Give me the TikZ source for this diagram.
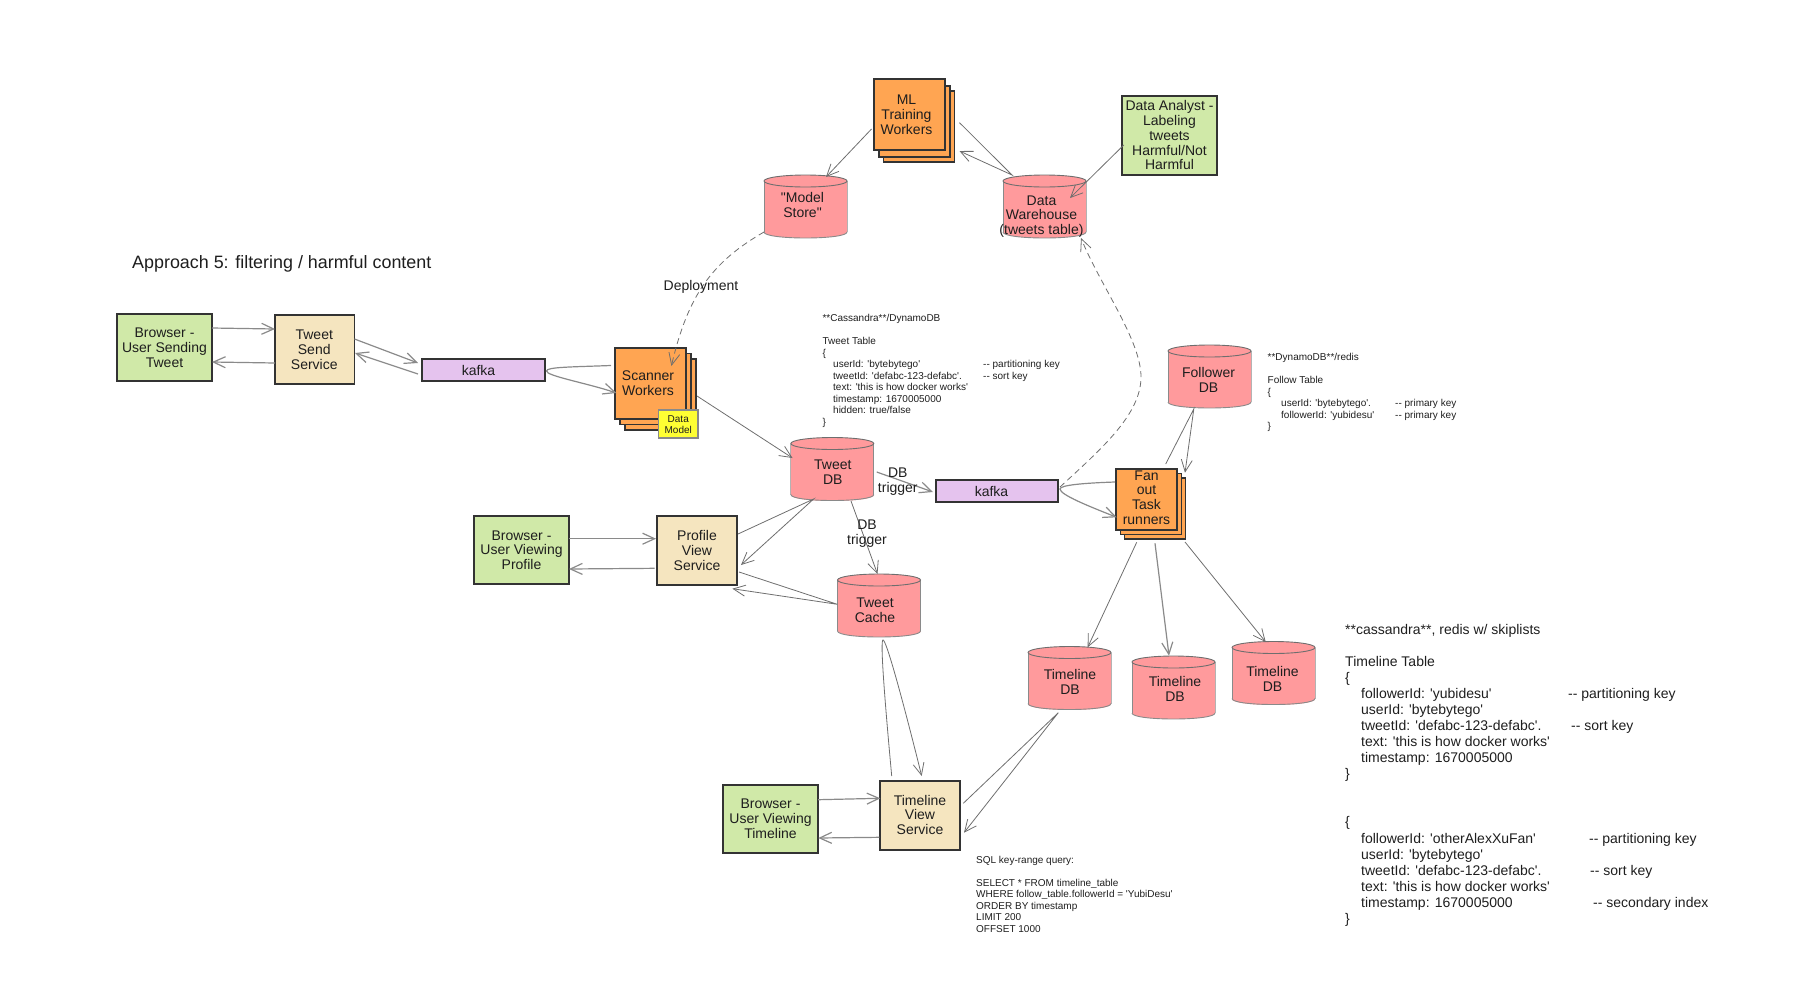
\documentclass[tikz,border=0pt]{standalone}
\usepackage{fontspec}
\setmainfont{Liberation Sans}[Ligatures=TeXOff]
\usetikzlibrary{arrows.meta}
\definecolor{cgreen}{HTML}{D0E9A8}
\definecolor{ccream}{HTML}{F5E5BF}
\definecolor{corange}{HTML}{FFA552}
\definecolor{cpurple}{HTML}{E5C3EE}
\definecolor{cred}{HTML}{FF9A9C}
\definecolor{cyell}{HTML}{FFFF33}
\definecolor{cline}{HTML}{6E6E6E}
\definecolor{cthick}{HTML}{8A8A8A}
\definecolor{cborder}{HTML}{333333}
\definecolor{ctext}{HTML}{1E1E1E}
\newcommand\nt[3]{\raisebox{\dimexpr -#2pt - 5.5pt\relax}[0pt][0pt]{\makebox[0pt][c]{\hspace{#1pt}\hspace{#1pt}\begin{tabular}[c]{@{}c@{}}#3\end{tabular}}}}
\newcommand\kc[3]{\makebox[#1pt][l]{#2}#3}
\newcommand\dd{-{}-}
\tikzset{
  boxbase/.style={rectangle,draw=cborder,line width=1.3pt,inner sep=0pt,text=ctext,font=\fontsize{14}{14.8}\selectfont},
  greenbox/.style={boxbase,fill=cgreen},
  creambox/.style={boxbase,fill=ccream},
  orangebox/.style={boxbase,fill=corange},
  purplebox/.style={boxbase,fill=cpurple},
  notebox/.style={boxbase,fill=cyell,draw=cthick,font=\fontsize{10}{11}\selectfont},
  dbcyl/.style={rectangle,inner sep=0pt,text=ctext,font=\fontsize{14}{14.8}\selectfont,minimum width=84pt,minimum height=64pt,
    path picture={
      \fill[cred] ([shift={(0.5,6.5)}]path picture bounding box.north west) rectangle ([shift={(-0.5,-6.5)}]path picture bounding box.south east);
      \fill[cred] ([shift={(0.5,-6.5)}]path picture bounding box.south west) .. controls +(0,8) and +(0,8) .. ([shift={(-0.5,-6.5)}]path picture bounding box.south east);
      \draw[cthick,line width=0.9pt] ([shift={(0.5,-6.5)}]path picture bounding box.south west) .. controls +(0,8) and +(0,8) .. ([shift={(-0.5,-6.5)}]path picture bounding box.south east);
      \draw[cthick,line width=0.9pt] ([shift={(0.5,6.5)}]path picture bounding box.north west) -- ([shift={(0.5,-6.5)}]path picture bounding box.south west);
      \draw[cthick,line width=0.9pt] ([shift={(-0.5,6.5)}]path picture bounding box.north east) -- ([shift={(-0.5,-6.5)}]path picture bounding box.south east);
      \draw[cline,line width=0.9pt,fill=cred] ([shift={(0,6.5)}]path picture bounding box.north) ellipse [x radius=41.5pt,y radius=6pt];
    }},
  conn/.style={draw=cline,line width=0.8pt,-{Straight Barb[length=12pt,width=11pt]}},
  connthick/.style={draw=cthick,line width=1.2pt,-{Straight Barb[length=12pt,width=11pt]}},
  dashconn/.style={conn,dashed,dash pattern=on 6pt off 4pt},
  lbl/.style={inner sep=0pt,text=ctext,font=\fontsize{14}{14.8}\selectfont,align=center},
  smallblock/.style={inner sep=0pt,anchor=north west,align=left,text=ctext,font=\fontsize{10}{11.5}\selectfont},
  bigblock/.style={inner sep=0pt,anchor=north west,align=left,text=ctext,font=\fontsize{14}{16.05}\selectfont},
}
\begin{document}
\begin{tikzpicture}[x=1pt,y=-1pt]
\useasboundingbox (0,0) rectangle (1797,1002);
\node[lbl,anchor=west,font=\fontsize{17.9}{20}\selectfont] (title) at (132,263.5) {Approach 5: filtering / harmful content};

\node[greenbox,minimum width=95pt,minimum height=67pt] (brs) at (164.5,347.5) {\nt{0}{0}{Browser -\\User Sending\\Tweet}};
\node[creambox,minimum width=79.5pt,minimum height=69pt] (tss) at (314.75,349.5) {\nt{-0.5}{0}{Tweet\\Send\\Service}};
\node[purplebox,minimum width=123pt,minimum height=22pt] (kf1) at (483.5,370) {\nt{-5}{1}{kafka}};

\node[orangebox,minimum width=71pt,minimum height=71pt] (sw3) at (660.5,394.5) {};
\node[orangebox,minimum width=71pt,minimum height=71pt] (sw2) at (655.5,389) {};
\node[orangebox,minimum width=71pt,minimum height=71pt] (sw1) at (650.5,383.5) {\nt{-2.5}{0}{Scanner\\Workers}};
\node[notebox,minimum width=39.5pt,minimum height=28pt] (dm) at (678.25,424) {\nt{0}{-1}{Data\\Model}};

\node[orangebox,minimum width=71pt,minimum height=71pt] (ml3) at (919,126.5) {};
\node[orangebox,minimum width=71pt,minimum height=71pt] (ml2) at (914.5,121.5) {};
\node[orangebox,minimum width=71pt,minimum height=71pt] (ml1) at (909.5,114.5) {\nt{-3}{0}{ML\\Training\\Workers}};
\node[greenbox,minimum width=95pt,minimum height=79pt] (da) at (1169.5,135.5) {\nt{0}{0}{Data Analyst -\\Labeling\\tweets\\Harmful/Not\\Harmful}};

\node[dbcyl] (ms) at (805.5,206.5) {\nt{-3}{-1.5}{"Model\\Store"}};
\node[dbcyl] (dw) at (1044.5,206.5) {\nt{-3}{8.5}{Data\\Warehouse\\(tweets table)}};
\node[dbcyl] (fw) at (1209.5,376.5) {\nt{-1}{3.5}{Follower\\DB}};
\node[dbcyl] (twdb) at (832.3,469) {\nt{0.5}{3}{Tweet\\DB}};
\node[dbcyl] (tc) at (879,605.5) {\nt{-4}{4.5}{Tweet\\Cache}};
\node[dbcyl] (tl1) at (1069.5,678) {\nt{0.5}{4}{Timeline\\DB}};
\node[dbcyl] (tl2) at (1173.5,687.5) {\nt{1.5}{1.5}{Timeline\\DB}};
\node[dbcyl] (tl3) at (1273.5,673) {\nt{-1}{6}{Timeline\\DB}};

\node[greenbox,minimum width=95pt,minimum height=68pt] (brp) at (521.5,550) {\nt{0}{0}{Browser -\\User Viewing\\Profile}};
\node[creambox,minimum width=80pt,minimum height=69pt] (pvs) at (697,550.5) {\nt{0}{0}{Profile\\View\\Service}};
\node[purplebox,minimum width=122pt,minimum height=22pt] (kf2) at (997,491) {\nt{-5.5}{1}{kafka}};

\node[orangebox,minimum width=61pt,minimum height=61pt] (fan3) at (1155,508.5) {};
\node[orangebox,minimum width=61pt,minimum height=61pt] (fan2) at (1151,504) {};
\node[orangebox,minimum width=61pt,minimum height=61pt] (fan) at (1146.5,499.5) {\nt{0}{-2}{Fan\\out\\Task\\runners}};

\node[creambox,minimum width=80pt,minimum height=69pt] (tvs) at (920,815.5) {\nt{0}{-0.5}{Timeline\\View\\Service}};
\node[greenbox,minimum width=95pt,minimum height=68pt] (brt) at (770.5,819) {\nt{0}{-0.5}{Browser -\\User Viewing\\Timeline}};

% connectors
\draw[connthick] ([shift={(47.5,-19.5)}]brs.center) -- ([shift={(-39.75,-20.5)}]tss.center);
\draw[connthick] ([shift={(-39.75,13.5)}]tss.center) -- ([shift={(47.5,14.5)}]brs.center);
\draw[connthick] ([shift={(39.75,-10.5)}]tss.center) -- ([shift={(-65.5,-7)}]kf1.center);
\draw[connthick] ([shift={(-65.5,4)}]kf1.center) -- ([shift={(40.25,3.5)}]tss.center);
\draw[connthick] ([shift={(-39.5,-18)}]sw1.center) .. controls +(-40,1.5) and +(0,-4) .. ([shift={(63,1)}]kf1.center) .. controls +(0,5) and +(-30,-10) .. ([shift={(-34,9.5)}]sw1.center);
\draw[conn] ([shift={(46.5,12.5)}]sw1.center) -- ([shift={(-39.8,-11)}]twdb.center);
\draw[dashconn] ([shift={(-41.5,25.5)}]ms.center) .. controls +(-52,30) and +(16.6,-71) .. ([shift={(20.9,-17.5)}]sw1.center);
\draw[conn] ([shift={(-38,14.5)}]ml1.center) -- ([shift={(20.5,-29.5)}]ms.center);
\draw[conn] ([shift={(50,8.2)}]ml1.center) -- ([shift={(-32.5,-31.5)}]dw.center) -- ([shift={(50,36.5)}]ml1.center);
\draw[conn] ([shift={(-45.7,9.5)}]da.center) -- ([shift={(25.5,-8.5)}]dw.center);
\draw[connthick] ([shift={(44.4,3)}]twdb.center) -- ([shift={(-64,1)}]kf2.center);
\draw[conn] ([shift={(18.7,32)}]twdb.center) -- ([shift={(-1.5,-31.5)}]tc.center);
\draw[conn] ([shift={(41,-16.5)}]pvs.center) -- ([shift={(-18.7,30)}]twdb.center) -- ([shift={(44,14.5)}]pvs.center);
\draw[conn] ([shift={(42,21.5)}]pvs.center) -- ([shift={(-41.7,-1.2)}]tc.center) -- ([shift={(35.4,38.2)}]pvs.center);
\draw[connthick] ([shift={(47.5,-11.3)}]brp.center) -- ([shift={(-41,-11.8)}]pvs.center);
\draw[connthick] ([shift={(-42.3,17.8)}]pvs.center) -- ([shift={(47.5,19)}]brp.center);
\draw[conn] ([shift={(-28.3,-39.5)}]tvs.center) .. controls +(-7,-76) and +(-3,0) .. ([shift={(4,34.5)}]tc.center) .. controls +(3,0) and +(-22,-88) .. ([shift={(1.7,-39.5)}]tvs.center);
\draw[conn] ([shift={(43.3,-12.2)}]tvs.center) -- ([shift={(-11.2,34.7)}]tl1.center) -- ([shift={(44,17.2)}]tvs.center);
\draw[connthick] ([shift={(47.5,-19.3)}]brt.center) -- ([shift={(-39.7,-17.2)}]tvs.center);
\draw[connthick] ([shift={(-40.7,21.8)}]tvs.center) -- ([shift={(47.8,19)}]brt.center);
\draw[connthick] ([shift={(-31.5,-17.5)}]fan.center) .. controls +(-30,1) and +(0,-4) .. ([shift={(63,-2)}]kf2.center) .. controls +(0,6) and +(-25,-10) .. ([shift={(-29.8,17.8)}]fan.center);
\draw[conn] ([shift={(19.2,-35.5)}]fan.center) -- ([shift={(-15.7,32.5)}]fw.center) -- ([shift={(38.5,-26.8)}]fan.center);
\draw[conn] ([shift={(-9.8,42.8)}]fan.center) -- ([shift={(18.2,-30.7)}]tl1.center);
\draw[connthick] ([shift={(8.5,43.8)}]fan.center) -- ([shift={(-4.5,-31.8)}]tl2.center);
\draw[conn] ([shift={(38.5,42.5)}]fan.center) -- ([shift={(-7.8,-31)}]tl3.center);
\draw[dashconn] ([shift={(63,-4)}]kf2.center) .. controls +(40,-37) and +(0,38) .. ([shift={(-68.5,0.5)}]fw.center) .. controls +(0,-37) and +(19,47) .. ([shift={(36.5,31.5)}]dw.center);

% labels
\node[lbl] (ldep) at (701,286.5) {Deployment};
\node[lbl] (ltrig1) at (897.8,481.5) {DB\\trigger};
\node[lbl] (ltrig2) at (867,534) {DB\\trigger};

% text blocks
\node[smallblock] (cass) at (822.4,314.5) {**Cassandra**/DynamoDB\\\mbox{}\\Tweet Table\\\{\\
\hspace*{10.6pt}\kc{150}{userId: 'bytebytego'}{\dd{} partitioning key}\\
\hspace*{10.6pt}\kc{150}{tweetId: 'defabc-123-defabc'.}{\dd{} sort key}\\
\hspace*{10.6pt}text: 'this is how docker works'\\
\hspace*{10.6pt}timestamp: 1670005000\\
\hspace*{10.6pt}hidden: true/false\\\}};
\node[smallblock] (foll) at (1267.5,353.5) {**DynamoDB**/redis\\\mbox{}\\Follow Table\\\{\\
\hspace*{13.5pt}\kc{114}{userId: 'bytebytego'.}{\dd{} primary key}\\
\hspace*{13.5pt}\kc{114}{followerId: 'yubidesu'}{\dd{} primary key}\\\}};
\node[smallblock] (sql) at (976,856) {SQL key-range query:\\\mbox{}\\SELECT * FROM timeline\_table\\WHERE follow\_table.followerId = 'YubiDesu'\\ORDER BY timestamp\\LIMIT 200\\OFFSET 1000};
\node[bigblock] (ttb) at (1345,624) {**cassandra**, redis w/ skiplists\\\mbox{}\\Timeline Table\\\{\\
\hspace*{16pt}\kc{207}{followerId: 'yubidesu'}{\dd{} partitioning key}\\
\hspace*{16pt}userId: 'bytebytego'\\
\hspace*{16pt}\kc{210}{tweetId: 'defabc-123-defabc'.}{\dd{} sort key}\\
\hspace*{16pt}text: 'this is how docker works'\\
\hspace*{16pt}timestamp: 1670005000\\\}\\\mbox{}\\\mbox{}\\\{\\
\hspace*{16pt}\kc{228}{followerId: 'otherAlexXuFan'}{\dd{} partitioning key}\\
\hspace*{16pt}userId: 'bytebytego'\\
\hspace*{16pt}\kc{229}{tweetId: 'defabc-123-defabc'.}{\dd{} sort key}\\
\hspace*{16pt}text: 'this is how docker works'\\
\hspace*{16pt}\kc{232}{timestamp: 1670005000}{\dd{} secondary index}\\\}};
\end{tikzpicture}
\end{document}
